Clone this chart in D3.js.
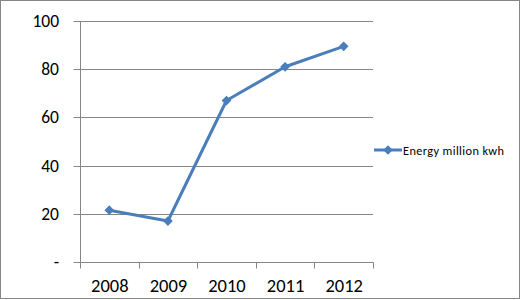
<!DOCTYPE html>
<html>
<head>
<meta charset="utf-8">
<script src="https://cdn.jsdelivr.net/npm/d3@7"></script>
<style>
  body { margin: 0; background: #fff; }
  svg { display: block; }
</style>
</head>
<body>
<div id="chart"></div>
<script>
// chart data
const years = ["2008", "2009", "2010", "2011", "2012"];
const energy = [21.5, 17, 67, 81, 89.5];
const yTicks = [0, 20, 40, 60, 80, 100];
const seriesName = "Energy million kwh";

const width = 521;
const height = 300;
const plot = { left: 80, right: 373, top: 21, bottom: 262 };
const lineColor = "#4a7ebb";
const gridColor = "#868686";
const font = "Carlito, Calibri, 'Liberation Sans', Arial, sans-serif";

const svg = d3.select("#chart").append("svg")
    .attr("width", width)
    .attr("height", height);

// outer frame
svg.append("rect")
    .attr("x", 0.5).attr("y", 0.5)
    .attr("width", width - 2).attr("height", height - 2)
    .attr("fill", "#fff")
    .attr("stroke", "#868686");

const xScale = d3.scaleBand()
    .domain(years)
    .range([plot.left, plot.right]);
const yScale = d3.scaleLinear()
    .domain([0, 100])
    .range([plot.bottom, plot.top]);

// gridlines
svg.append("g").selectAll("line")
    .data(yTicks.filter(d => d > 0))
    .join("line")
    .attr("x1", plot.left).attr("x2", plot.right)
    .attr("y1", d => Math.round(yScale(d)) + 0.5)
    .attr("y2", d => Math.round(yScale(d)) + 0.5)
    .attr("stroke", gridColor);

// y axis
const yAxis = svg.append("g")
    .attr("transform", `translate(${plot.left + 0.5},0.5)`)
    .call(d3.axisLeft(yScale).tickValues(yTicks).tickSize(7).tickPadding(14.5)
        .tickFormat(d => d === 0 ? "-" : d));
yAxis.select(".domain").attr("stroke", gridColor).attr("d", `M0,${plot.top}V${plot.bottom}`);
yAxis.selectAll(".tick line").attr("stroke", gridColor);
yAxis.selectAll("text")
    .attr("font-size", "17.5px")
    .attr("font-family", font)
    .attr("fill", "#000");
yAxis.selectAll(".tick").attr("transform", d => `translate(0,${Math.round(yScale(d))})`);

// x axis
const xAxis = svg.append("g")
    .attr("transform", `translate(0.5,${plot.bottom + 0.5})`);
xAxis.append("line")
    .attr("x1", plot.left).attr("x2", plot.right)
    .attr("stroke", gridColor);
const xEdges = years.map(d => xScale(d)).concat([xScale(years[years.length - 1]) + xScale.bandwidth()]);
xAxis.selectAll(".xtick")
    .data(xEdges)
    .join("line")
    .attr("class", "xtick")
    .attr("x1", d => Math.round(d)).attr("x2", d => Math.round(d))
    .attr("y1", 0).attr("y2", 6)
    .attr("stroke", gridColor);
xAxis.selectAll("text")
    .data(years)
    .join("text")
    .attr("x", d => xScale(d) + xScale.bandwidth() / 2)
    .attr("y", 29.5)
    .attr("text-anchor", "middle")
    .attr("font-size", "18.5px")
    .attr("font-family", font)
    .attr("fill", "#000")
    .text(d => d);

// series line
const line = d3.line()
    .x((d, i) => xScale(years[i]) + xScale.bandwidth() / 2)
    .y(d => yScale(d));
svg.append("path")
    .datum(energy)
    .attr("d", line)
    .attr("fill", "none")
    .attr("stroke", lineColor)
    .attr("stroke-width", 3)
    .attr("stroke-linejoin", "round");

const diamond = d3.symbol().type(d3.symbolDiamond2).size(60);
svg.append("g").selectAll("path")
    .data(energy)
    .join("path")
    .attr("d", diamond)
    .attr("transform", (d, i) => `translate(${xScale(years[i]) + xScale.bandwidth() / 2},${yScale(d)})`)
    .attr("fill", lineColor);

// legend
const legend = svg.append("g").attr("transform", "translate(374,150)");
legend.append("line")
    .attr("x1", 0).attr("x2", 28)
    .attr("stroke", lineColor)
    .attr("stroke-width", 3);
legend.append("path")
    .attr("d", diamond)
    .attr("transform", "translate(14,0)")
    .attr("fill", lineColor);
legend.append("text")
    .attr("x", 29)
    .attr("y", 4.5)
    .attr("font-size", "12.3px")
    .attr("font-family", font)
    .attr("fill", "#000")
    .attr("textLength", 101)
    .attr("lengthAdjust", "spacing")
    .text(seriesName);
</script>
</body>
</html>
